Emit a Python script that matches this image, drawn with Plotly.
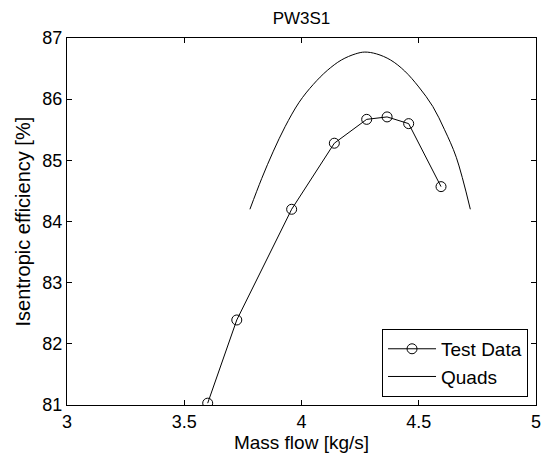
import plotly.graph_objects as go

# Data
test_mass_flow = [3.600, 3.724, 3.958, 4.140, 4.278, 4.365, 4.457, 4.595]
test_efficiency = [81.03, 82.39, 84.20, 85.28, 85.67, 85.71, 85.60, 84.57]

quads_mass_flow = [3.78, 3.83, 3.88, 3.93, 3.99, 4.05, 4.11, 4.17, 4.23,
                   4.27, 4.32, 4.38, 4.44, 4.50, 4.56, 4.61, 4.66, 4.72]
quads_efficiency = [84.20, 84.70, 85.15, 85.55, 85.95, 86.24, 86.47, 86.64, 86.74,
                    86.77, 86.74, 86.64, 86.46, 86.20, 85.88, 85.50, 85.05, 84.20]

x_ticks = [3, 3.5, 4, 4.5, 5]
y_ticks = [81, 82, 83, 84, 85, 86, 87]

FONT = "Liberation Sans, Arial, sans-serif"
L, R, T, B = 67, 18, 38, 51
W, H = 554, 456
PW = W - L - R

fig = go.Figure()
fig.add_trace(go.Scatter(
    x=test_mass_flow, y=test_efficiency, name="Test Data",
    mode="lines+markers",
    line=dict(color="black", width=1),
    marker=dict(symbol="circle-open", size=10, color="black", line=dict(width=1)),
))
fig.add_trace(go.Scatter(
    x=quads_mass_flow, y=quads_efficiency, name="Quads",
    mode="lines", line=dict(color="black", width=1, shape="spline"),
))

axis_common = dict(
    showline=True, linecolor="black", linewidth=1, mirror="allticks",
    ticks="inside", ticklen=5, tickcolor="black", tickwidth=1,
    showgrid=False, zeroline=False, automargin=False,
    tickfont=dict(family=FONT, size=18, color="black"),
)

fig.update_layout(
    width=W, height=H,
    margin=dict(l=L, r=R, t=T, b=B, autoexpand=False),
    paper_bgcolor="white", plot_bgcolor="white",
    font=dict(family=FONT, size=17, color="black"),
    title=dict(text="PW3S1", x=(L + W - R) / 2 / W, xanchor="center",
               y=1 - 18 / H, yanchor="middle",
               font=dict(family=FONT, size=17, color="black")),
    xaxis=dict(range=[3, 5], tickvals=x_ticks, ticktext=[str(v) for v in x_ticks],
               title=dict(text="Mass flow [kg/s]", standoff=3,
                          font=dict(family=FONT, size=19)),
               **axis_common),
    yaxis=dict(range=[81, 87], tickvals=y_ticks, ticktext=[str(v) for v in y_ticks],
               **axis_common),
    annotations=[dict(text="Isentropic efficiency [%]", textangle=-90,
                      xref="paper", yref="paper", x=(22 - L) / PW, y=0.5,
                      xanchor="center", yanchor="middle", showarrow=False,
                      font=dict(family=FONT, size=20, color="black"))],
    legend=dict(x=0.983, xanchor="right", y=0.022, yanchor="bottom",
                bordercolor="black", borderwidth=1, bgcolor="white",
                font=dict(family=FONT, size=19, color="black"),
                itemwidth=48, tracegroupgap=0),
    showlegend=True,
)

fig.write_html("out.html")
